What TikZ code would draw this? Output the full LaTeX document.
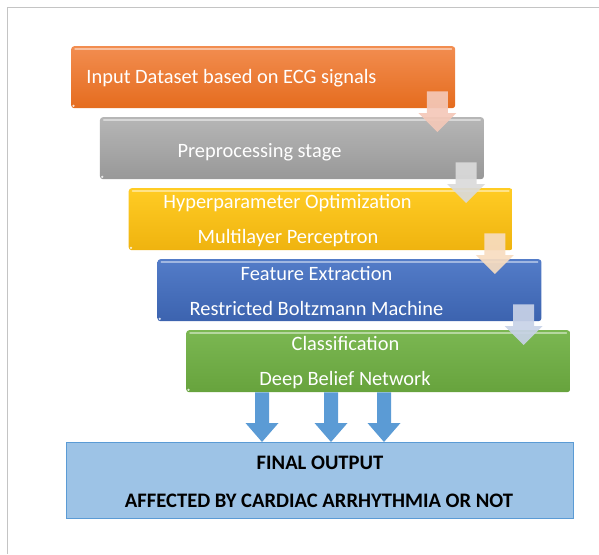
\documentclass[tikz,border=0pt]{standalone}
\usepackage{fontspec}
\setmainfont{Carlito}
\usetikzlibrary{calc}

\definecolor{frameline}{HTML}{C4C4C4}
\definecolor{orTop}{HTML}{F28D50}\definecolor{orBot}{HTML}{E56C1E}
\definecolor{grTop}{HTML}{B6B6B6}\definecolor{grBot}{HTML}{989898}
\definecolor{ylTop}{HTML}{FFCC24}\definecolor{ylBot}{HTML}{EFB30F}
\definecolor{buTop}{HTML}{537CC8}\definecolor{buBot}{HTML}{3C63AF}
\definecolor{gnTop}{HTML}{7BB752}\definecolor{gnBot}{HTML}{67A33D}
\definecolor{arA}{HTML}{F4C8B8}
\definecolor{arB}{HTML}{DADADA}
\definecolor{arC}{HTML}{F7DCC0}
\definecolor{arD}{HTML}{C8D2E7}
\definecolor{outFill}{HTML}{9DC3E6}
\definecolor{outLine}{HTML}{5B9BD5}
\definecolor{downBlue}{HTML}{5B9BD5}

% block arrow: #1 style, #2 top centre of the shaft, #3 tip, #4 shaft half width,
% #5 head half width, #6 head length
\newcommand\flowarrow[6]{%
  \fill[#1] let \p1=#2, \p2=#3 in
    (\x1-#4,\y1) -- (\x1+#4,\y1) -- (\x1+#4,\y2+#6) -- (\x1+#5,\y2+#6)
    -- (\x1,\y2) -- (\x1-#5,\y2+#6) -- (\x1-#4,\y2+#6) -- cycle;}

\begin{document}
\begin{tikzpicture}[x=1pt,y=-1pt,
  stepbox/.style={rounded corners=3pt, minimum width=384pt, minimum height=62pt,
    anchor=north west, inner sep=0pt},
  steptext/.style={text=white, font=\fontsize{20.4}{24}\selectfont, inner sep=0pt, anchor=base},
  outtext/.style={text=black, font=\fontsize{20.6}{24}\selectfont\bfseries, inner sep=0pt, anchor=base},
  gloss/.style={line width=1.4pt, line cap=round},
  cornerdot/.style={fill=white, fill opacity=0.8},
  steparrow/.style={opacity=0.92},
]
\useasboundingbox (0,0) rectangle (599,554);

% page frame
\draw[frameline, line width=1pt] (7,554) -- (7,7) -- (599,7);

% process steps
\node[stepbox, top color=orTop, bottom color=orBot] (s1) at (71,46) {};
\node[stepbox, top color=grTop, bottom color=grBot] (s2) at (99.75,117) {};
\node[stepbox, top color=ylTop, bottom color=ylBot] (s3) at (128.5,188) {};
\node[stepbox, top color=buTop, bottom color=buBot] (s4) at (157.25,259) {};
\node[stepbox, top color=gnTop, bottom color=gnBot] (s5) at (186,330) {};

% glossy top edge and corner dot of each step
\foreach \n/\c in {s1/orTop, s2/grTop, s3/ylTop, s4/buTop, s5/gnTop} {
  \draw[gloss, \c!55!white] ($(\n.north west)+(4,3)$) -- ($(\n.north east)+(-4,3)$);
  \fill[cornerdot] ($(\n.south west)+(2.5,-2.5)$) circle (1.3pt);
}

% step labels
\node[steptext] (t1) at (231.5,83.5) {Input Dataset based on ECG signals};
\node[steptext] (t2) at (259.5,157) {Preprocessing stage};
\node[steptext] (t3a) at (287.5,208) {Hyperparameter Optimization};
\node[steptext] (t3b) at (288,243) {Multilayer Perceptron};
\node[steptext] (t4a) at (316.5,280) {Feature Extraction};
\node[steptext] (t4b) at (316.5,315) {Restricted Boltzmann Machine};
\node[steptext] (t5a) at (345.5,350) {Classification};
\node[steptext] (t5b) at (345,385.5) {Deep Belief Network};

% arrows from step to step
\flowarrow{steparrow, arA}{($(s1.south east)+(-18,-17)$)}{($(s2.north)+(0,15)$)}{10.5pt}{19pt}{19pt}
\flowarrow{steparrow, arB}{($(s2.south east)+(-18,-17)$)}{($(s3.north)+(0,15)$)}{10.5pt}{19pt}{19pt}
\flowarrow{steparrow, arC}{($(s3.south east)+(-18,-17)$)}{($(s4.north)+(0,15)$)}{10.5pt}{19pt}{19pt}
\flowarrow{steparrow, arD}{($(s4.south east)+(-18,-17)$)}{($(s5.north)+(0,15)$)}{10.5pt}{19pt}{19pt}

% final output
\node[draw=outLine, line width=0.9pt, fill=outFill, minimum width=507pt, minimum height=76pt,
  anchor=north west, inner sep=0pt] (fin) at (66,442) {};
\node[outtext] (f1) at (320,469) {FINAL OUTPUT};
\node[outtext] (f2) at (319,507.5) {AFFECTED BY CARDIAC ARRHYTHMIA OR NOT};

% arrows into the final output
\flowarrow{downBlue}{($(s5.south west)+(76,0)$)}{($(fin.north west)+(196,0)$)}{7pt}{16.5pt}{19pt}
\flowarrow{downBlue}{($(s5.south west)+(145,0)$)}{($(fin.north west)+(265,0)$)}{7pt}{16.5pt}{19pt}
\flowarrow{downBlue}{($(s5.south west)+(198,0)$)}{($(fin.north west)+(318,0)$)}{7pt}{16.5pt}{19pt}
\end{tikzpicture}
\end{document}
